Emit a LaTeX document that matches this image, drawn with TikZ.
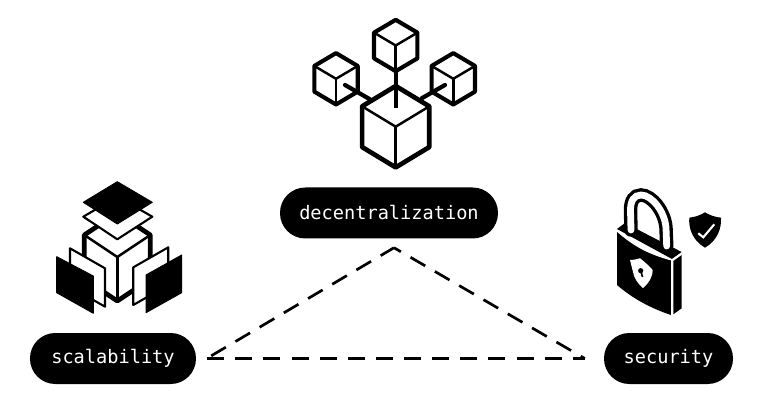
\documentclass[tikz,border=0pt]{standalone}
\usepackage{fontspec}
\setmonofont{DejaVu Sans Mono}
\tikzstyle{pill} = [rectangle, rounded corners=0.76cm,
minimum height=1.53cm,
inner sep=0pt,
text centered,
text=white,
fill=black,
font=\ttfamily\fontsize{15.9}{16}\selectfont]
\tikzstyle{link} = [line width=2.3pt, dash pattern=on 14.5pt off 9.5pt, line join=round]
\tikzstyle{thin edge} = [line width=2.1pt, line join=round]
\tikzstyle{plate} = [line width=1.8pt, line join=round, fill=white]
\tikzstyle{solid plate} = [line join=round, line width=0.8pt, draw=black, fill=black]
% centre x, centre y, half width, half height, outline
\newcommand{\cubeicon}[5]{
\draw [line width=#5, line join=round, fill=white] (#1,#2-#4) -- (#1+#3,#2-#4/2) -- (#1+#3,#2+#4/2) -- (#1,#2+#4) -- (#1-#3,#2+#4/2) -- (#1-#3,#2-#4/2) -- cycle;
\draw [thin edge] (#1-#3,#2-#4/2) -- (#1,#2) -- (#1+#3,#2-#4/2);
\draw [thin edge] (#1,#2) -- (#1,#2+#4);
}

\begin{document}
\begin{tikzpicture}[x=0.03cm, y=-0.03cm, node distance=4.365cm]
\useasboundingbox (0,0) rectangle (772,402);

\node (decentralization) [pill, minimum width=6.54cm] at (389,213) {decentralization};
\node (scalability) [pill, minimum width=4.98cm, below of=decentralization, xshift=-8.28cm] {scalability};
\node (security) [pill, minimum width=3.87cm, below of=decentralization, xshift=8.385cm] {security};

\coordinate (apex) at ([xshift=0.15cm, yshift=-0.27cm]decentralization.south);
\coordinate (left tip) at ([xshift=0.45cm, yshift=0.08cm]scalability.east);
\coordinate (left foot) at ([xshift=0.33cm]scalability.east);
\coordinate (right tip) at ([xshift=-0.57cm]security.west);

\draw [link] (left tip) -- (apex);
\draw [link, dash phase=7.7pt] (apex) -- (right tip);
\draw [link] (left foot) -- (right tip);

% decentralization icon
\cubeicon{395.7}{45.5}{21.7}{25.7}{3.5pt}
\cubeicon{336}{78.8}{21.7}{25.7}{3.5pt}
\cubeicon{453.3}{78.8}{21.7}{25.7}{3.5pt}
\draw [line width=3.6pt] (395.7,71.7) -- (395.7,86);
\draw [line width=3.6pt, line cap=round] (345,85) -- (370,99.3);
\draw [line width=3.6pt, line cap=round] (445,85) -- (421.7,98.3);
\cubeicon{395.7}{126.7}{33.6}{40.7}{4pt}
\draw [line width=3.6pt] (395.7,84) -- (395.7,108);

% scalability icon
\cubeicon{117.3}{257}{33}{44}{4pt}
\draw [plate] (117.3,196.7) -- (152.3,216.7) -- (117.3,239.3) -- (83.3,216.7) -- cycle;
\draw [solid plate] (117.3,181.7) -- (152.3,202.3) -- (117.3,224) -- (83.3,202.3) -- cycle;
\draw [plate] (70,248.3) -- (105,268.3) -- (105,306.7) -- (70,286.7) -- cycle;
\draw [solid plate] (56.7,256.7) -- (93.3,276) -- (93.3,313.3) -- (56.7,292.7) -- cycle;
\draw [plate] (168.3,247.3) -- (133.3,267.3) -- (133.3,305) -- (168.3,285) -- cycle;
\draw [solid plate] (181.7,255) -- (146,275) -- (146,312.7) -- (181.7,292.7) -- cycle;

% security icon
\fill (617,229) -- (625,223) -- (654,238) -- (681.7,252) -- (672,259) -- cycle;
\draw [line width=11.5pt, line cap=round] (631,230) -- (630.5,210) .. controls (630.5,201) and (634,195) .. (641,195) .. controls (652,195) and (665,212) .. (666,228) -- (666.7,246);
\draw [line width=5.8pt, line cap=round, white] (631,230) -- (630.5,210) .. controls (630.5,201) and (634,195) .. (641,195) .. controls (652,195) and (665,212) .. (666,228) -- (666.7,246);
\fill (617,231) .. controls (635,247) and (650,254) .. (671,260) -- (671,315) .. controls (650,308) and (632,298) .. (617,285) -- cycle;
\fill (673.3,261) -- (681.7,255) -- (681.7,308.3) -- (673.3,314.3) -- cycle;
\draw [white, line width=1.1pt, line join=round] (616,230) .. controls (635,247) and (650,254) .. (672,260) -- (682,253);
\draw [white, line width=1.1pt] (672,260) -- (672,315);
\fill [white] (630,260) .. controls (634,260) and (637,259) .. (640,258.3) .. controls (645,262) and (649,266) .. (652.7,270) .. controls (653,276) and (649,283) .. (643,288) .. controls (638,284) and (634,278) .. (633,272) -- cycle;
\fill (640.7,270.7) circle (2.6);
\draw [line width=1.4pt] (640.7,270.7) -- (642.5,277);
\fill (705,212.3) .. controls (700,215.5) and (695,217) .. (689.3,217.7) .. controls (688.5,228) and (692,240) .. (705,247.7) .. controls (718,240) and (721.5,228) .. (721,217.7) .. controls (715,217) and (710,215.5) .. (705,212.3) -- cycle;
\draw [white, line width=1.8pt] (698.3,233.3) -- (703.3,237.3) -- (714.3,224.3);
\end{tikzpicture}
\end{document}
